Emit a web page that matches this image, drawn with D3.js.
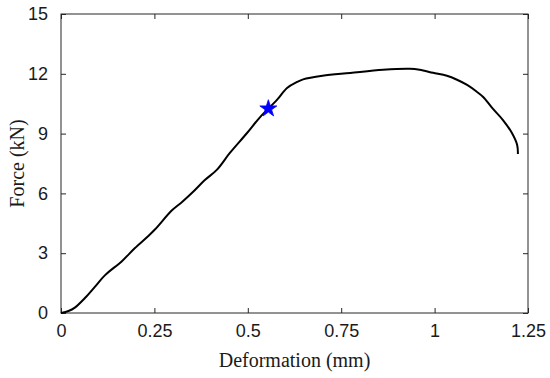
<!DOCTYPE html>
<html><head><meta charset="utf-8">
<script src="https://cdn.jsdelivr.net/npm/d3@7"></script>
<style>html,body{margin:0;padding:0;background:#fff;}svg{display:block;}</style>
</head><body>
<svg id="c" width="550" height="378"></svg>
<script>
const deformation = [0, 0.02, 0.037, 0.064, 0.09, 0.118, 0.163, 0.198, 0.233, 0.252, 0.297, 0.324, 0.353, 0.385, 0.417, 0.452, 0.498, 0.533, 0.578, 0.605, 0.632, 0.648, 0.70, 0.774, 0.862, 0.934, 0.96, 0.996, 1.033, 1.06, 1.087, 1.113, 1.13, 1.154, 1.183, 1.207, 1.221, 1.223];
const force = [0, 0.1, 0.27, 0.75, 1.3, 1.9, 2.6, 3.26, 3.85, 4.2, 5.15, 5.57, 6.07, 6.67, 7.18, 8.03, 9.03, 9.83, 10.69, 11.29, 11.59, 11.72, 11.9, 12.04, 12.2, 12.25, 12.2, 12.05, 11.9, 11.7, 11.44, 11.1, 10.84, 10.29, 9.68, 9.03, 8.43, 7.98];
const starPoint = [0.555, 10.25];
const xTicks = [0, 0.25, 0.5, 0.75, 1, 1.25];
const xTickLabels = ["0", "0.25", "0.5", "0.75", "1", "1.25"];
const yTicks = [0, 3, 6, 9, 12, 15];
const xLabel = "Deformation (mm)";
const yLabel = "Force (kN)";

const L = 61, R = 528, T = 14, B = 313;
const svg = d3.select("#c");
const x = d3.scaleLinear().domain([0, 1.25]).range([L, R]);
const y = d3.scaleLinear().domain([0, 15]).range([B, T]);
const axisColor = "#262626";
const tickFont = "'Liberation Sans', Arial, sans-serif";
const labelFont = "'Liberation Serif', 'Times New Roman', serif";

function style(g){
  g.select(".domain").remove();
  g.selectAll(".tick line").attr("stroke", axisColor);
}
svg.append("g").attr("transform", `translate(0,${B})`)
  .call(d3.axisBottom(x).tickValues(xTicks).tickFormat((d,i)=>xTickLabels[i]).tickSizeInner(-5).tickSizeOuter(0).tickPadding(11))
  .call(style)
  .call(g=>g.selectAll("text").attr("font-family", tickFont).attr("font-size", 18).attr("fill", "#1a1a1a"));
svg.append("g").attr("transform", `translate(0,${T})`)
  .call(d3.axisTop(x).tickValues(xTicks).tickFormat("").tickSizeInner(-5).tickSizeOuter(0))
  .call(style);
svg.append("g").attr("transform", `translate(${L},0)`)
  .call(d3.axisLeft(y).tickValues(yTicks).tickFormat(d3.format("d")).tickSizeInner(-5).tickSizeOuter(0).tickPadding(13))
  .call(style)
  .call(g=>g.selectAll("text").attr("font-family", tickFont).attr("font-size", 18).attr("fill", "#1a1a1a"));
svg.append("g").attr("transform", `translate(${R},0)`)
  .call(d3.axisRight(y).tickValues(yTicks).tickFormat("").tickSizeInner(-5).tickSizeOuter(0))
  .call(style);

svg.append("rect").attr("x", L).attr("y", T).attr("width", R-L).attr("height", B-T)
  .attr("fill", "none").attr("stroke", axisColor).attr("stroke-width", 1);

const pts = deformation.map((d,i)=>[d, force[i]]);
svg.append("path").datum(pts)
  .attr("d", d3.line().x(d=>x(d[0])).y(d=>y(d[1])).curve(d3.curveCatmullRom.alpha(0.5)))
  .attr("fill", "none").attr("stroke", "#000").attr("stroke-width", 2);

svg.append("path")
  .attr("d", d3.symbol().type(d3.symbolStar).size(90)())
  .attr("transform", `translate(${x(starPoint[0])},${y(starPoint[1])})`)
  .attr("fill", "#0000ff").attr("stroke", "#0000ff").attr("stroke-width", 0.8);

svg.append("text").attr("x", (L+R)/2).attr("y", 367).attr("text-anchor", "middle")
  .attr("font-family", labelFont).attr("font-size", 20).attr("fill", "#1a1a1a").text(xLabel);
svg.append("text").attr("transform", `translate(24,${(T+B)/2}) rotate(-90)`).attr("text-anchor", "middle")
  .attr("font-family", labelFont).attr("font-size", 20).attr("fill", "#1a1a1a").text(yLabel);
</script>
</body></html>
